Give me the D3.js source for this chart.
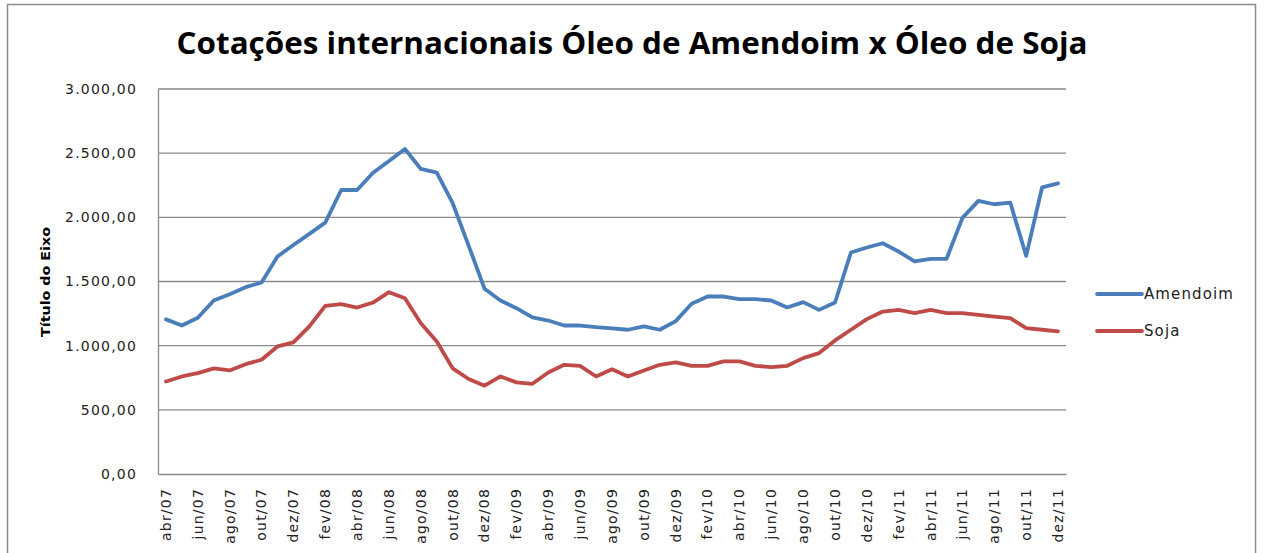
<!DOCTYPE html>
<html>
<head>
<meta charset="utf-8">
<script src="https://cdn.jsdelivr.net/npm/d3@7"></script>
<style>
  body { margin: 0; background: #fff; }
  svg { display: block; }
</style>
</head>
<body>
<svg id="chart" width="1265" height="553"></svg>
<script>
// Cotações internacionais: óleo de amendoim x óleo de soja, abr/07 - dez/11

var monthNames = ['jan', 'fev', 'mar', 'abr', 'mai', 'jun', 'jul', 'ago', 'set', 'out', 'nov', 'dez'];

// one category per month, abr/07 to dez/11
var months = [];
for (var yr = 7; yr <= 11; yr++) {
  for (var m = 0; m < 12; m++) {
    if (yr == 7 && m < 3) continue;
    months.push(monthNames[m] + '/' + (yr < 10 ? '0' + yr : yr));
  }
}

var amendoim = [
  1205, 1157, 1217, 1352, 1401, 1456, 1492, 1695, 1785, 1871, 1959, 2213,
  2213, 2348, 2439, 2533, 2377, 2348, 2110, 1780, 1443, 1352, 1292, 1220,
  1196, 1157, 1157, 1144, 1134, 1124, 1150, 1124, 1191, 1326, 1383, 1383,
  1362, 1362, 1352, 1297, 1339, 1279, 1336, 1726, 1765, 1798, 1733, 1656,
  1676, 1676, 1996, 2128, 2102, 2115, 1700, 2234, 2265
];

var soja = [
  721, 760, 786, 823, 807, 856, 890, 994, 1025, 1150, 1310, 1323,
  1297, 1336, 1417, 1370, 1175, 1033, 823, 740, 688, 760, 714, 703,
  791, 851, 843, 760, 817, 760, 807, 851, 869, 843, 843, 877,
  877, 843, 833, 843, 903, 942, 1041, 1124, 1207, 1266, 1279, 1253,
  1279, 1253, 1253, 1240, 1227, 1214, 1137, 1124, 1111
];

var yTicks = [0, 500, 1000, 1500, 2000, 2500, 3000];

var series = [
  { name: 'Amendoim', values: amendoim, color: '#4a7ebb' },
  { name: 'Soja', values: soja, color: '#be4b48' }
];

var svg = d3.select('#chart');
var plotLeft = 158, plotRight = 1066, plotTop = 89, plotBottom = 474;

// outer chart border
svg.append('rect')
  .attr('x', 7.5).attr('y', 4.5)
  .attr('width', 1248).attr('height', 560)
  .attr('fill', 'none')
  .attr('stroke', '#8c8c8c')
  .attr('stroke-width', 1.5);

var x = d3.scaleBand()
  .domain(months)
  .range([plotLeft, plotRight]);

var yScale = d3.scaleLinear()
  .domain([0, 3000])
  .range([plotBottom, plotTop]);

var fmt = function(d) {
  var s = d3.format(',.2f')(d);
  return s.replace(/,/g, '#').replace('.', ',').replace(/#/g, '.');
};

// title
svg.append('text')
  .attr('x', 632)
  .attr('y', 54)
  .attr('text-anchor', 'middle')
  .attr('font-family', 'Open Sans, sans-serif')
  .attr('font-weight', 'bold')
  .attr('font-size', 31)
  .attr('textLength', 911)
  .attr('lengthAdjust', 'spacingAndGlyphs')
  .attr('fill', '#000')
  .text('Cotações internacionais Óleo de Amendoim x Óleo de Soja');

// gridlines
svg.append('g')
  .selectAll('line')
  .data(yTicks.filter(function(d) { return d > 0; }))
  .enter().append('line')
    .attr('x1', plotLeft).attr('x2', plotRight)
    .attr('y1', function(d) { return yScale(d); })
    .attr('y2', function(d) { return yScale(d); })
    .attr('stroke', '#8a8a8a')
    .attr('stroke-width', 1.3);

// y axis
var yAxis = svg.append('g')
  .attr('transform', 'translate(' + plotLeft + ',0)')
  .call(d3.axisLeft(yScale).tickValues(yTicks).tickSize(0).tickPadding(21).tickFormat(fmt));
yAxis.select('.domain').attr('stroke', '#8a8a8a').attr('stroke-width', 1.3);
yAxis.selectAll('text')
  .attr('font-family', 'DejaVu Sans, sans-serif')
  .attr('font-size', 14)
  .attr('letter-spacing', 1.2)
  .attr('fill', '#222');

// x axis
var xAxis = svg.append('g')
  .attr('transform', 'translate(0,' + plotBottom + ')')
  .call(d3.axisBottom(x)
    .tickValues(months.filter(function(d, i) { return i % 2 == 0; }))
    .tickSize(0));
xAxis.select('.domain').attr('stroke', '#8a8a8a').attr('stroke-width', 1.3);
xAxis.selectAll('text')
  .attr('font-family', 'DejaVu Sans, sans-serif')
  .attr('font-size', 14)
  .attr('letter-spacing', 1.2)
  .attr('fill', '#222')
  .attr('text-anchor', 'end')
  .attr('dy', '0.35em')
  .attr('transform', 'translate(0,14) rotate(-90)')
  .attr('x', 0).attr('y', 0);

// axis title
svg.append('text')
  .attr('transform', 'translate(50,282) rotate(-90)')
  .attr('text-anchor', 'middle')
  .attr('font-family', 'DejaVu Sans, sans-serif')
  .attr('font-weight', 'bold')
  .attr('font-size', 13)
  .attr('textLength', 110)
  .attr('lengthAdjust', 'spacingAndGlyphs')
  .text('Título do Eixo');

// lines
var line = d3.line()
  .x(function(d, i) { return x(months[i]) + x.bandwidth() / 2; })
  .y(function(d) { return yScale(d); });

svg.append('g')
  .selectAll('path')
  .data(series)
  .enter().append('path')
    .attr('d', function(d) { return line(d.values); })
    .attr('fill', 'none')
    .attr('stroke', function(d) { return d.color; })
    .attr('stroke-width', 3.8)
    .attr('stroke-linejoin', 'round')
    .attr('stroke-linecap', 'round');

// legend
var legend = svg.append('g')
  .selectAll('g')
  .data(series)
  .enter().append('g')
    .attr('transform', function(d, i) { return 'translate(1097,' + (294 + i * 37) + ')'; });
legend.append('line')
  .attr('x1', 0).attr('x2', 45)
  .attr('stroke', function(d) { return d.color; })
  .attr('stroke-width', 3.8)
  .attr('stroke-linecap', 'round');
legend.append('text')
  .attr('x', 47)
  .attr('dy', '0.35em')
  .attr('font-family', 'DejaVu Sans, sans-serif')
  .attr('font-size', 15)
  .attr('letter-spacing', 1.1)
  .attr('fill', '#222')
  .text(function(d) { return d.name; });
</script>
</body>
</html>
